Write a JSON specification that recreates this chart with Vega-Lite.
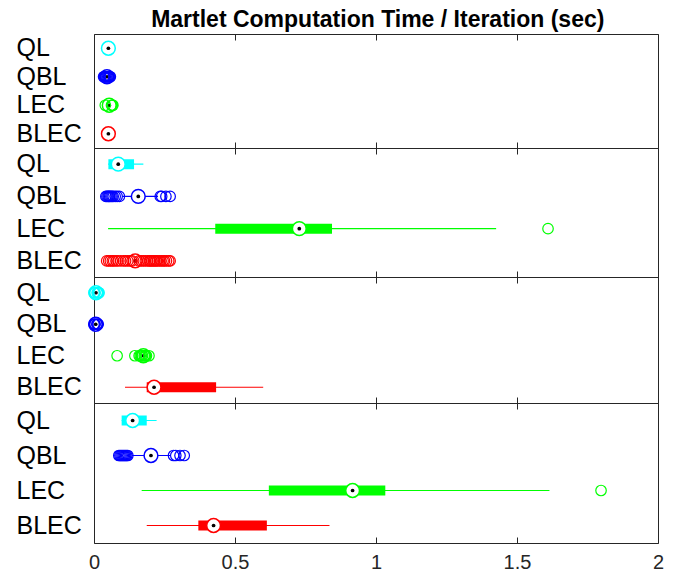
{
  "$schema": "https://vega.github.io/schema/vega-lite/v6.json",
  "padding": {"left": 15, "top": 9, "right": 5, "bottom": 5},
  "bounds": "flush",
  "spacing": 0,
  "title": {"text": "Martlet Computation Time / Iteration (sec)", "fontSize": 23, "fontWeight": "bold", "font": "Liberation Sans", "anchor": "middle", "frame": "bounds", "dx": 38, "baseline": "alphabetic", "offset": -17, "color": "#000000"},
  "config": {
    "view": {"stroke": "#262626", "strokeWidth": 1},
    "concat": {"spacing": 0},
    "axis": {"grid": false},
    "axisX": {"minExtent": 0, "maxExtent": 0, "offset": 0}
  },
  "datasets": {
    "stats": [
      {"panel": 1, "cat": "QL", "lo": 0.048, "q1": 0.049, "med": 0.051, "q3": 0.053, "hi": 0.055},
      {"panel": 1, "cat": "QBL", "lo": 0.043, "q1": 0.044, "med": 0.046, "q3": 0.048, "hi": 0.05},
      {"panel": 1, "cat": "LEC", "lo": 0.048, "q1": 0.05, "med": 0.054, "q3": 0.057, "hi": 0.06},
      {"panel": 1, "cat": "BLEC", "lo": 0.048, "q1": 0.049, "med": 0.051, "q3": 0.052, "hi": 0.054},
      {"panel": 2, "cat": "QL", "lo": 0.05, "q1": 0.051, "med": 0.086, "q3": 0.142, "hi": 0.175},
      {"panel": 2, "cat": "QBL", "lo": 0.1, "q1": 0.145, "med": 0.157, "q3": 0.17, "hi": 0.227},
      {"panel": 2, "cat": "LEC", "lo": 0.05, "q1": 0.43, "med": 0.728, "q3": 0.844, "hi": 1.426},
      {"panel": 2, "cat": "BLEC", "lo": 0.13, "q1": 0.14, "med": 0.146, "q3": 0.152, "hi": 0.16},
      {"panel": 3, "cat": "QL", "lo": 0.003, "q1": 0.005, "med": 0.007, "q3": 0.009, "hi": 0.011},
      {"panel": 3, "cat": "QBL", "lo": 0.003, "q1": 0.004, "med": 0.006, "q3": 0.008, "hi": 0.01},
      {"panel": 3, "cat": "LEC", "lo": 0.165, "q1": 0.17, "med": 0.175, "q3": 0.18, "hi": 0.185},
      {"panel": 3, "cat": "BLEC", "lo": 0.11, "q1": 0.187, "med": 0.213, "q3": 0.433, "hi": 0.6},
      {"panel": 4, "cat": "QL", "lo": 0.098, "q1": 0.098, "med": 0.137, "q3": 0.187, "hi": 0.222},
      {"panel": 4, "cat": "QBL", "lo": 0.135, "q1": 0.19, "med": 0.202, "q3": 0.215, "hi": 0.27},
      {"panel": 4, "cat": "LEC", "lo": 0.169, "q1": 0.62, "med": 0.917, "q3": 1.033, "hi": 1.615},
      {"panel": 4, "cat": "BLEC", "lo": 0.187, "q1": 0.37, "med": 0.424, "q3": 0.613, "hi": 0.835}
    ],
    "out": [
      {"panel": 1, "cat": "QBL", "v": 0.034}, {"panel": 1, "cat": "QBL", "v": 0.037}, {"panel": 1, "cat": "QBL", "v": 0.04},
      {"panel": 1, "cat": "QBL", "v": 0.043}, {"panel": 1, "cat": "QBL", "v": 0.046}, {"panel": 1, "cat": "QBL", "v": 0.049},
      {"panel": 1, "cat": "QBL", "v": 0.052}, {"panel": 1, "cat": "QBL", "v": 0.055}, {"panel": 1, "cat": "QBL", "v": 0.058},
      {"panel": 1, "cat": "LEC", "v": 0.04}, {"panel": 1, "cat": "LEC", "v": 0.062}, {"panel": 1, "cat": "LEC", "v": 0.065}, {"panel": 1, "cat": "LEC", "v": 0.067},
      {"panel": 2, "cat": "QBL", "v": 0.042}, {"panel": 2, "cat": "QBL", "v": 0.046}, {"panel": 2, "cat": "QBL", "v": 0.05},
      {"panel": 2, "cat": "QBL", "v": 0.053}, {"panel": 2, "cat": "QBL", "v": 0.056}, {"panel": 2, "cat": "QBL", "v": 0.06},
      {"panel": 2, "cat": "QBL", "v": 0.064}, {"panel": 2, "cat": "QBL", "v": 0.068}, {"panel": 2, "cat": "QBL", "v": 0.075},
      {"panel": 2, "cat": "QBL", "v": 0.082}, {"panel": 2, "cat": "QBL", "v": 0.09}, {"panel": 2, "cat": "QBL", "v": 0.235},
      {"panel": 2, "cat": "QBL", "v": 0.24}, {"panel": 2, "cat": "QBL", "v": 0.255}, {"panel": 2, "cat": "QBL", "v": 0.27},
      {"panel": 2, "cat": "LEC", "v": 1.61},
      {"panel": 2, "cat": "BLEC", "v": 0.045}, {"panel": 2, "cat": "BLEC", "v": 0.052}, {"panel": 2, "cat": "BLEC", "v": 0.058},
      {"panel": 2, "cat": "BLEC", "v": 0.065}, {"panel": 2, "cat": "BLEC", "v": 0.07}, {"panel": 2, "cat": "BLEC", "v": 0.078},
      {"panel": 2, "cat": "BLEC", "v": 0.085}, {"panel": 2, "cat": "BLEC", "v": 0.095}, {"panel": 2, "cat": "BLEC", "v": 0.105},
      {"panel": 2, "cat": "BLEC", "v": 0.112}, {"panel": 2, "cat": "BLEC", "v": 0.12}, {"panel": 2, "cat": "BLEC", "v": 0.128},
      {"panel": 2, "cat": "BLEC", "v": 0.135}, {"panel": 2, "cat": "BLEC", "v": 0.16}, {"panel": 2, "cat": "BLEC", "v": 0.168},
      {"panel": 2, "cat": "BLEC", "v": 0.175}, {"panel": 2, "cat": "BLEC", "v": 0.182}, {"panel": 2, "cat": "BLEC", "v": 0.19},
      {"panel": 2, "cat": "BLEC", "v": 0.196}, {"panel": 2, "cat": "BLEC", "v": 0.2}, {"panel": 2, "cat": "BLEC", "v": 0.205},
      {"panel": 2, "cat": "BLEC", "v": 0.21}, {"panel": 2, "cat": "BLEC", "v": 0.215}, {"panel": 2, "cat": "BLEC", "v": 0.22},
      {"panel": 2, "cat": "BLEC", "v": 0.225}, {"panel": 2, "cat": "BLEC", "v": 0.232}, {"panel": 2, "cat": "BLEC", "v": 0.238},
      {"panel": 2, "cat": "BLEC", "v": 0.245}, {"panel": 2, "cat": "BLEC", "v": 0.25}, {"panel": 2, "cat": "BLEC", "v": 0.257},
      {"panel": 2, "cat": "BLEC", "v": 0.265}, {"panel": 2, "cat": "BLEC", "v": 0.27},
      {"panel": 3, "cat": "QL", "v": 0.0}, {"panel": 3, "cat": "QL", "v": 0.002}, {"panel": 3, "cat": "QL", "v": 0.004},
      {"panel": 3, "cat": "QL", "v": 0.011}, {"panel": 3, "cat": "QL", "v": 0.013}, {"panel": 3, "cat": "QL", "v": 0.016}, {"panel": 3, "cat": "QL", "v": 0.018},
      {"panel": 3, "cat": "QBL", "v": 0.0}, {"panel": 3, "cat": "QBL", "v": 0.002}, {"panel": 3, "cat": "QBL", "v": 0.004},
      {"panel": 3, "cat": "QBL", "v": 0.01}, {"panel": 3, "cat": "QBL", "v": 0.012}, {"panel": 3, "cat": "QBL", "v": 0.015},
      {"panel": 3, "cat": "LEC", "v": 0.082}, {"panel": 3, "cat": "LEC", "v": 0.145}, {"panel": 3, "cat": "LEC", "v": 0.16},
      {"panel": 3, "cat": "LEC", "v": 0.164}, {"panel": 3, "cat": "LEC", "v": 0.168}, {"panel": 3, "cat": "LEC", "v": 0.172},
      {"panel": 3, "cat": "LEC", "v": 0.178}, {"panel": 3, "cat": "LEC", "v": 0.182}, {"panel": 3, "cat": "LEC", "v": 0.186}, {"panel": 3, "cat": "LEC", "v": 0.195},
      {"panel": 4, "cat": "QBL", "v": 0.088}, {"panel": 4, "cat": "QBL", "v": 0.092}, {"panel": 4, "cat": "QBL", "v": 0.096},
      {"panel": 4, "cat": "QBL", "v": 0.1}, {"panel": 4, "cat": "QBL", "v": 0.104}, {"panel": 4, "cat": "QBL", "v": 0.108},
      {"panel": 4, "cat": "QBL", "v": 0.112}, {"panel": 4, "cat": "QBL", "v": 0.116}, {"panel": 4, "cat": "QBL", "v": 0.12},
      {"panel": 4, "cat": "QBL", "v": 0.282}, {"panel": 4, "cat": "QBL", "v": 0.29}, {"panel": 4, "cat": "QBL", "v": 0.305}, {"panel": 4, "cat": "QBL", "v": 0.32},
      {"panel": 4, "cat": "LEC", "v": 1.798}
    ]
  },
  "vconcat": [
    {
      "width": 564, "height": 114,
      "resolve": {"axis": {"x": "independent"}},
      "layer": [
        {"data": {"name": "stats"}, "transform": [{"filter": "datum.panel == 1"}], "mark": {"type": "rule", "strokeWidth": 1.2},
         "encoding": {"x": {"field": "lo", "type": "quantitative", "scale": {"domain": [0, 2], "nice": false, "zero": false}, "axis": {"orient": "bottom", "values": [0, 0.5, 1, 1.5, 2], "tickSize": -6, "labels": false, "domain": false, "title": null, "tickColor": "#262626"}}, "x2": {"field": "hi"},
          "y": {"field": "cat", "type": "nominal", "scale": {"domain": ["QL", "QBL", "LEC", "BLEC"], "paddingInner": 0, "paddingOuter": 0}, "axis": {"title": null, "ticks": false, "domain": false, "labelAlign": "left", "labelPadding": 78, "labelFontSize": 25, "labelFont": "Liberation Sans", "labelColor": "#000000", "labelBaseline": "middle"}},
          "color": {"field": "cat", "type": "nominal", "scale": {"domain": ["QL", "QBL", "LEC", "BLEC"], "range": ["#00FFFF", "#0000FF", "#00FF00", "#FF0000"]}, "legend": null}}},
        {"data": {"name": "stats"}, "transform": [{"filter": "datum.panel == 1"}], "mark": {"type": "bar", "height": 10},
         "encoding": {"x": {"field": "q1", "type": "quantitative", "axis": {"orient": "top", "values": [0, 0.5, 1, 1.5, 2], "tickSize": -6, "labels": false, "domain": false, "title": null, "tickColor": "#262626"}}, "x2": {"field": "q3"},
          "y": {"field": "cat", "type": "nominal"},
          "color": {"field": "cat", "type": "nominal", "legend": null}}},
        {"data": {"name": "stats"}, "transform": [{"filter": "datum.panel == 1"}], "mark": {"type": "point", "shape": "circle", "filled": true, "fill": "#ffffff", "size": 190, "strokeWidth": 1.5, "opacity": 1},
         "encoding": {"x": {"field": "med", "type": "quantitative", "axis": null}, "y": {"field": "cat", "type": "nominal"},
          "stroke": {"field": "cat", "type": "nominal", "scale": {"domain": ["QL", "QBL", "LEC", "BLEC"], "range": ["#00FFFF", "#0000FF", "#00FF00", "#FF0000"]}, "legend": null}}},
        {"data": {"name": "stats"}, "transform": [{"filter": "datum.panel == 1"}], "mark": {"type": "point", "shape": "circle", "filled": true, "color": "#000000", "size": 14, "opacity": 1},
         "encoding": {"x": {"field": "med", "type": "quantitative", "axis": null}, "y": {"field": "cat", "type": "nominal"}}},
        {"data": {"name": "out"}, "transform": [{"filter": "datum.panel == 1"}], "mark": {"type": "point", "shape": "circle", "filled": false, "size": 110, "strokeWidth": 1.2, "opacity": 1},
         "encoding": {"x": {"field": "v", "type": "quantitative", "axis": null}, "y": {"field": "cat", "type": "nominal"},
          "color": {"field": "cat", "type": "nominal", "legend": null}}}
      ]
    },
    {
      "width": 564, "height": 129,
      "resolve": {"axis": {"x": "independent"}},
      "layer": [
        {"data": {"name": "stats"}, "transform": [{"filter": "datum.panel == 2"}], "mark": {"type": "rule", "strokeWidth": 1.2},
         "encoding": {"x": {"field": "lo", "type": "quantitative", "scale": {"domain": [0, 2], "nice": false, "zero": false}, "axis": {"orient": "bottom", "values": [0, 0.5, 1, 1.5, 2], "tickSize": -6, "labels": false, "domain": false, "title": null, "tickColor": "#262626"}}, "x2": {"field": "hi"},
          "y": {"field": "cat", "type": "nominal", "scale": {"domain": ["QL", "QBL", "LEC", "BLEC"], "paddingInner": 0, "paddingOuter": 0}, "axis": {"title": null, "ticks": false, "domain": false, "labelAlign": "left", "labelPadding": 78, "labelFontSize": 25, "labelFont": "Liberation Sans", "labelColor": "#000000", "labelBaseline": "middle"}},
          "color": {"field": "cat", "type": "nominal", "scale": {"domain": ["QL", "QBL", "LEC", "BLEC"], "range": ["#00FFFF", "#0000FF", "#00FF00", "#FF0000"]}, "legend": null}}},
        {"data": {"name": "stats"}, "transform": [{"filter": "datum.panel == 2"}], "mark": {"type": "bar", "height": 10},
         "encoding": {"x": {"field": "q1", "type": "quantitative", "axis": {"orient": "top", "values": [0, 0.5, 1, 1.5, 2], "tickSize": -6, "labels": false, "domain": false, "title": null, "tickColor": "#262626"}}, "x2": {"field": "q3"},
          "y": {"field": "cat", "type": "nominal"},
          "color": {"field": "cat", "type": "nominal", "legend": null}}},
        {"data": {"name": "stats"}, "transform": [{"filter": "datum.panel == 2"}], "mark": {"type": "point", "shape": "circle", "filled": true, "fill": "#ffffff", "size": 190, "strokeWidth": 1.5, "opacity": 1},
         "encoding": {"x": {"field": "med", "type": "quantitative", "axis": null}, "y": {"field": "cat", "type": "nominal"},
          "stroke": {"field": "cat", "type": "nominal", "scale": {"domain": ["QL", "QBL", "LEC", "BLEC"], "range": ["#00FFFF", "#0000FF", "#00FF00", "#FF0000"]}, "legend": null}}},
        {"data": {"name": "stats"}, "transform": [{"filter": "datum.panel == 2"}], "mark": {"type": "point", "shape": "circle", "filled": true, "color": "#000000", "size": 14, "opacity": 1},
         "encoding": {"x": {"field": "med", "type": "quantitative", "axis": null}, "y": {"field": "cat", "type": "nominal"}}},
        {"data": {"name": "out"}, "transform": [{"filter": "datum.panel == 2"}], "mark": {"type": "point", "shape": "circle", "filled": false, "size": 110, "strokeWidth": 1.2, "opacity": 1},
         "encoding": {"x": {"field": "v", "type": "quantitative", "axis": null}, "y": {"field": "cat", "type": "nominal"},
          "color": {"field": "cat", "type": "nominal", "legend": null}}}
      ]
    },
    {
      "width": 564, "height": 126,
      "resolve": {"axis": {"x": "independent"}},
      "layer": [
        {"data": {"name": "stats"}, "transform": [{"filter": "datum.panel == 3"}], "mark": {"type": "rule", "strokeWidth": 1.2},
         "encoding": {"x": {"field": "lo", "type": "quantitative", "scale": {"domain": [0, 2], "nice": false, "zero": false}, "axis": {"orient": "bottom", "values": [0, 0.5, 1, 1.5, 2], "tickSize": -6, "labels": false, "domain": false, "title": null, "tickColor": "#262626"}}, "x2": {"field": "hi"},
          "y": {"field": "cat", "type": "nominal", "scale": {"domain": ["QL", "QBL", "LEC", "BLEC"], "paddingInner": 0, "paddingOuter": 0}, "axis": {"title": null, "ticks": false, "domain": false, "labelAlign": "left", "labelPadding": 78, "labelFontSize": 25, "labelFont": "Liberation Sans", "labelColor": "#000000", "labelBaseline": "middle"}},
          "color": {"field": "cat", "type": "nominal", "scale": {"domain": ["QL", "QBL", "LEC", "BLEC"], "range": ["#00FFFF", "#0000FF", "#00FF00", "#FF0000"]}, "legend": null}}},
        {"data": {"name": "stats"}, "transform": [{"filter": "datum.panel == 3"}], "mark": {"type": "bar", "height": 10},
         "encoding": {"x": {"field": "q1", "type": "quantitative", "axis": {"orient": "top", "values": [0, 0.5, 1, 1.5, 2], "tickSize": -6, "labels": false, "domain": false, "title": null, "tickColor": "#262626"}}, "x2": {"field": "q3"},
          "y": {"field": "cat", "type": "nominal"},
          "color": {"field": "cat", "type": "nominal", "legend": null}}},
        {"data": {"name": "stats"}, "transform": [{"filter": "datum.panel == 3"}], "mark": {"type": "point", "shape": "circle", "filled": true, "fill": "#ffffff", "size": 190, "strokeWidth": 1.5, "opacity": 1},
         "encoding": {"x": {"field": "med", "type": "quantitative", "axis": null}, "y": {"field": "cat", "type": "nominal"},
          "stroke": {"field": "cat", "type": "nominal", "scale": {"domain": ["QL", "QBL", "LEC", "BLEC"], "range": ["#00FFFF", "#0000FF", "#00FF00", "#FF0000"]}, "legend": null}}},
        {"data": {"name": "stats"}, "transform": [{"filter": "datum.panel == 3"}], "mark": {"type": "point", "shape": "circle", "filled": true, "color": "#000000", "size": 14, "opacity": 1},
         "encoding": {"x": {"field": "med", "type": "quantitative", "axis": null}, "y": {"field": "cat", "type": "nominal"}}},
        {"data": {"name": "out"}, "transform": [{"filter": "datum.panel == 3"}], "mark": {"type": "point", "shape": "circle", "filled": false, "size": 110, "strokeWidth": 1.2, "opacity": 1},
         "encoding": {"x": {"field": "v", "type": "quantitative", "axis": null}, "y": {"field": "cat", "type": "nominal"},
          "color": {"field": "cat", "type": "nominal", "legend": null}}}
      ]
    },
    {
      "width": 564, "height": 140,
      "resolve": {"axis": {"x": "independent"}},
      "layer": [
        {"data": {"name": "stats"}, "transform": [{"filter": "datum.panel == 4"}], "mark": {"type": "rule", "strokeWidth": 1.2},
         "encoding": {"x": {"field": "lo", "type": "quantitative", "scale": {"domain": [0, 2], "nice": false, "zero": false}, "axis": {"orient": "bottom", "values": [0, 0.5, 1, 1.5, 2], "tickSize": -6, "labels": true, "format": "~g", "labelFlush": false, "labelFontSize": 20, "labelFont": "Liberation Sans", "labelColor": "#262626", "labelPadding": 15, "domain": false, "title": null, "tickColor": "#262626"}}, "x2": {"field": "hi"},
          "y": {"field": "cat", "type": "nominal", "scale": {"domain": ["QL", "QBL", "LEC", "BLEC"], "paddingInner": 0, "paddingOuter": 0}, "axis": {"title": null, "ticks": false, "domain": false, "labelAlign": "left", "labelPadding": 78, "labelFontSize": 25, "labelFont": "Liberation Sans", "labelColor": "#000000", "labelBaseline": "middle"}},
          "color": {"field": "cat", "type": "nominal", "scale": {"domain": ["QL", "QBL", "LEC", "BLEC"], "range": ["#00FFFF", "#0000FF", "#00FF00", "#FF0000"]}, "legend": null}}},
        {"data": {"name": "stats"}, "transform": [{"filter": "datum.panel == 4"}], "mark": {"type": "bar", "height": 10},
         "encoding": {"x": {"field": "q1", "type": "quantitative", "axis": {"orient": "top", "values": [0, 0.5, 1, 1.5, 2], "tickSize": -6, "labels": false, "domain": false, "title": null, "tickColor": "#262626"}}, "x2": {"field": "q3"},
          "y": {"field": "cat", "type": "nominal"},
          "color": {"field": "cat", "type": "nominal", "legend": null}}},
        {"data": {"name": "stats"}, "transform": [{"filter": "datum.panel == 4"}], "mark": {"type": "point", "shape": "circle", "filled": true, "fill": "#ffffff", "size": 190, "strokeWidth": 1.5, "opacity": 1},
         "encoding": {"x": {"field": "med", "type": "quantitative", "axis": null}, "y": {"field": "cat", "type": "nominal"},
          "stroke": {"field": "cat", "type": "nominal", "scale": {"domain": ["QL", "QBL", "LEC", "BLEC"], "range": ["#00FFFF", "#0000FF", "#00FF00", "#FF0000"]}, "legend": null}}},
        {"data": {"name": "stats"}, "transform": [{"filter": "datum.panel == 4"}], "mark": {"type": "point", "shape": "circle", "filled": true, "color": "#000000", "size": 14, "opacity": 1},
         "encoding": {"x": {"field": "med", "type": "quantitative", "axis": null}, "y": {"field": "cat", "type": "nominal"}}},
        {"data": {"name": "out"}, "transform": [{"filter": "datum.panel == 4"}], "mark": {"type": "point", "shape": "circle", "filled": false, "size": 110, "strokeWidth": 1.2, "opacity": 1},
         "encoding": {"x": {"field": "v", "type": "quantitative", "axis": null}, "y": {"field": "cat", "type": "nominal"},
          "color": {"field": "cat", "type": "nominal", "legend": null}}}
      ]
    }
  ]
}
